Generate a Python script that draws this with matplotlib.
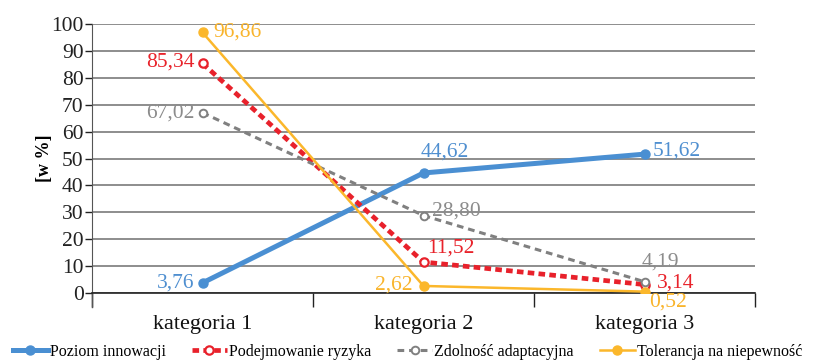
import matplotlib
matplotlib.use("Agg")
import matplotlib.pyplot as plt

plt.rcParams['font.family'] = ['Liberation Serif', 'DejaVu Serif']

categories = ["kategoria 1", "kategoria 2", "kategoria 3"]
series_names = ["Poziom innowacji", "Podejmowanie ryzyka", "Zdolność adaptacyjna", "Tolerancja na niepewność"]
poziom = [3.76, 44.62, 51.62]
ryzyko = [85.34, 11.52, 3.14]
adapt = [67.02, 28.80, 4.19]
toler = [96.86, 2.62, 0.52]
y_ticks = [0, 10, 20, 30, 40, 50, 60, 70, 80, 90, 100]

colors = ["#4A8FD2", "#E8212B", "#808080", "#FBB72B"]
label_colors = ["#4F8FD0", "#E8232B", "#8C8C8C", "#F9B42C"]

fig = plt.figure(figsize=(8.15, 3.63), dpi=100)
ax = fig.add_axes([92/815, (363-293)/363, (755-92)/815, (293-24)/363])

x = [1, 2, 3]
styles = [
    dict(ls='-', lw=3.6, marker='o', ms=6.5, mfc=colors[0], mec=colors[0]),
    dict(ls=(0, (1.4, 0.9)), lw=3.4, marker='o', ms=6, mfc='white', mec=colors[1], mew=1.6),
    dict(ls=(0, (2.2, 1.6)), lw=2.2, marker='o', ms=5.5, mfc='white', mec=colors[2], mew=1.4),
    dict(ls='-', lw=1.8, marker='o', ms=6.5, mfc=colors[3], mec=colors[3]),
]
data = [poziom, ryzyko, adapt, toler]
for vals, c, st, name in zip(data, colors, styles, series_names):
    ax.plot(x, vals, color=c, label=name, zorder=3, **st)

ax.set_xlim(0.5, 3.5)
ax.set_ylim(0, 100)
ax.set_yticks(y_ticks)
ax.set_yticklabels([str(t) for t in y_ticks])
ax.set_xticks(x)
ax.set_xticklabels(categories)
ax.set_xticks([0.5, 1.5, 2.5, 3.5], minor=True)
ax.tick_params(axis='x', which='major', length=0, labelsize=16, pad=16, colors='#111111')
ax.tick_params(axis='x', which='minor', length=10, width=1.0, direction='out', color='#222222')
ax.tick_params(axis='y', length=5, width=1.0, direction='out', labelsize=15.5, pad=1, colors='#222222')
ax.grid(axis='y', color='#7a7a7a', lw=1.2, zorder=0)
for s in ['top', 'right']:
    ax.spines[s].set_visible(False)
ax.spines['left'].set_color('#555555')
ax.spines['left'].set_bounds(0, 100)
ax.spines['bottom'].set_color('#222222')
ax.spines['bottom'].set_linewidth(1.2)
ax.plot([0.5, 0.5], [0, -5.2], color='#555555', lw=1.0, clip_on=False)

ax.set_ylabel("[w %]", fontsize=13, fontweight='bold', labelpad=-1)

def fmt(v):
    return f"{v:.2f}".replace('.', ',')

offs = [
    [((-6, 0), 'right', 'center'), ((-2, 8), 'left', 'bottom'), ((6, 2), 'left', 'center')],
    [((-6, 1), 'right', 'center'), ((3, 3), 'left', 'bottom'), ((9, 1), 'left', 'center')],
    [((-6, 0), 'right', 'center'), ((6, 3), 'left', 'center'), ((-2, 7), 'left', 'bottom')],
    [((8, 0), 'left', 'center'), ((-8, 1), 'right', 'center'), ((3, -1), 'left', 'top')],
]
for vals, lc, ofs in zip(data, label_colors, offs):
    for xi, v, (o, ha, va) in zip(x, vals, ofs):
        ax.annotate(fmt(v), (xi, v), xytext=o, textcoords='offset points',
                    ha=ha, va=va, color=lc, fontsize=15.5, zorder=4)

handles, labels = ax.get_legend_handles_labels()
fig.legend(handles, labels, loc='center', bbox_to_anchor=(0.5, (363-352)/363), ncol=4,
           frameon=False, fontsize=11.5, handlelength=2.2, handletextpad=0.15, columnspacing=1.6,
           borderaxespad=0, borderpad=0)

fig.savefig("out.png", dpi=100)
